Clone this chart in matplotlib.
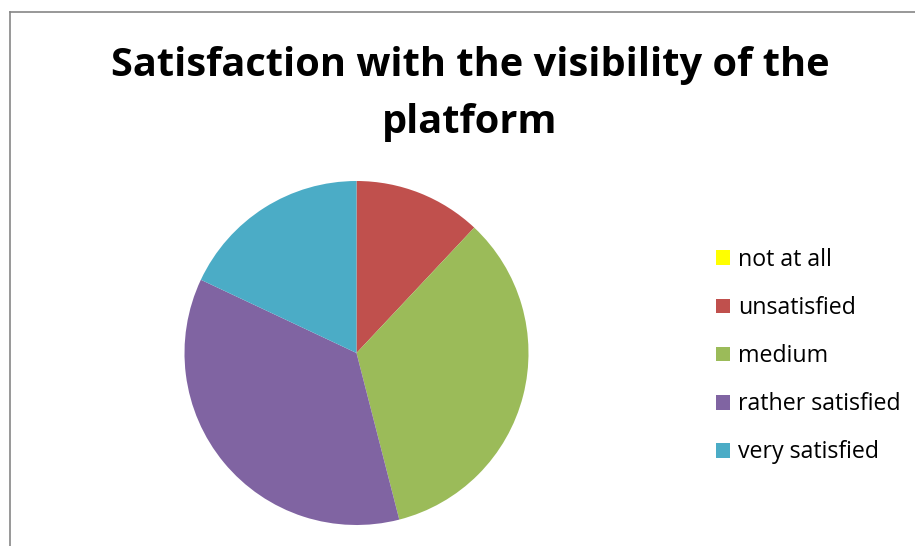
import matplotlib
matplotlib.use("Agg")
import matplotlib.pyplot as plt
from matplotlib.patches import Patch
from matplotlib.lines import Line2D

categories = ["not at all", "unsatisfied", "medium", "rather satisfied", "very satisfied"]
counts = [0, 6, 17, 18, 9]
colors = ["#FFFF00", "#C0504D", "#9BBB59", "#8064A2", "#4BACC6"]
title = "Satisfaction with the visibility of the\nplatform"

W, H = 915, 546
fig = plt.figure(figsize=(W / 100, H / 100), dpi=100)
fig.patch.set_facecolor("white")

# chart area frame (left and top edges visible)
fx, fy = 9.5 / W, 1 - 11.5 / H
fig.add_artist(Line2D([fx, fx], [0, fy], transform=fig.transFigure, color="#868686", lw=1.2))
fig.add_artist(Line2D([fx, 1], [fy, fy], transform=fig.transFigure, color="#868686", lw=1.2))

cx, cy, r = 356.5, 353, 172
ax = fig.add_axes([(cx - r) / W, (H - cy - r) / H, 2 * r / W, 2 * r / H])
wedges, _ = ax.pie(counts, colors=colors, startangle=90, counterclock=False,
                   radius=1, wedgeprops=dict(linewidth=0))
ax.set_xlim(-1, 1)
ax.set_ylim(-1, 1)
ax.set_aspect("equal")
ax.axis("off")

fig.text(470 / W, 1 - 94 / H, title, ha="center", va="center", fontsize=28.6,
         fontweight="bold", family="Open Sans", linespacing=1.62)

handles = [Patch(facecolor=c, edgecolor="none") for c in colors]
leg = fig.legend(handles, categories, loc="upper left",
                 bbox_to_anchor=(716 / W, 1 - 248 / H), frameon=False,
                 prop=dict(family="Open Sans", size=16.7),
                 handlelength=0.6, handleheight=0.6, handletextpad=0.35,
                 labelspacing=1.04, borderaxespad=0, borderpad=0)

fig.savefig("out.png", dpi=100)
